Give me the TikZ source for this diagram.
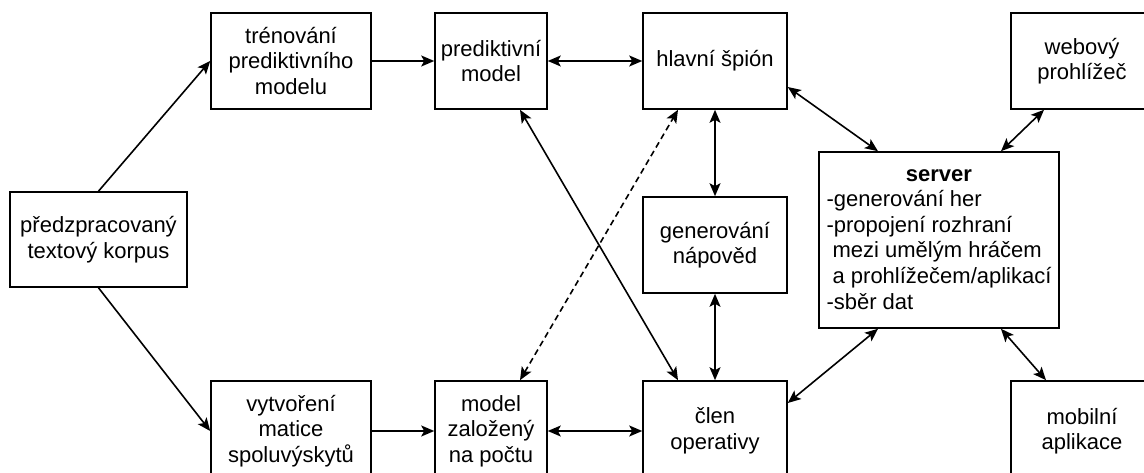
\documentclass[tikz,border=0pt]{standalone}
\usepackage{fontspec}
\setmainfont{Liberation Sans}
\usetikzlibrary{arrows.meta}

\begin{document}
\begin{tikzpicture}[x=1pt,y=-1pt]
    % Setup the styles for the boxes and the arrows
        \tikzset{box style/.style={draw, rectangle,
                                   line width=1.6pt,
                                   align=center,
                                   inner sep=2pt,
                                   font=\fontsize{22}{25.6}\selectfont},
                 arrow style/.style={line width=1.6pt,
                                     >={Stealth[length=13pt, width=11pt, inset=3pt]}}}
        \useasboundingbox (0,0) rectangle (1144,473);
        % Draw the boxes
        \node[box style, minimum width=177pt, minimum height=95pt] at (98.5, 239.5) (korpus) {předzpracovaný\\textový korpus};
        \node[box style, minimum width=160pt, minimum height=96pt] at (291, 61) (trenovani) {trénování\\prediktivního\\modelu};
        \node[box style, minimum width=112pt, minimum height=96pt] at (491, 61) (prediktivni) {prediktivní\\model};
        \node[box style, minimum width=144pt, minimum height=96pt] at (715, 61) (hlavni) {hlavní špión};
        \node[box style, minimum width=142pt, minimum height=96pt] at (1082, 61) (webovy) {webový\\prohlížeč};
        \node[box style, minimum width=144pt, minimum height=96pt] at (715, 245) (napovedy) {generování\\nápověd};
        \node[box style, minimum width=240pt, minimum height=176pt] at (939, 240) (server) {\begin{tabular}{@{}l@{}}
            \multicolumn{1}{@{}c@{}}{\textbf{server}}\\
            -generování her\\
            -propojení rozhraní\\
            \ mezi umělým hráčem\\
            \ a prohlížečem/aplikací\\
            -sběr dat
        \end{tabular}};
        \node[box style, minimum width=160pt, minimum height=100pt] at (291, 431) (matice) {vytvoření\\matice\\spoluvýskytů};
        \node[box style, minimum width=112pt, minimum height=100pt] at (491, 431) (pocty) {model\\založený\\na počtu};
        \node[box style, minimum width=144pt, minimum height=100pt] at (715, 431) (clen) {člen\\operativy};
        \node[box style, minimum width=142pt, minimum height=100pt] at (1082, 431) (mobilni) {mobilní\\aplikace};
        % Connect the boxes with arrows
        \draw[arrow style]
        (korpus.north) edge[->] (trenovani.west)
        (korpus.south) edge[->] (matice.west)
        (trenovani) edge[->] (prediktivni)
        (matice) edge[->] (pocty)
        (prediktivni) edge[<->] (hlavni)
        (pocty) edge[<->] (clen)
        ([xshift=29pt]prediktivni.south) edge[<->] ([xshift=-37pt]clen.north)
        ([xshift=29pt]pocty.north) edge[<->, dash pattern=on 6pt off 4pt] ([xshift=-37pt]hlavni.south)
        (hlavni) edge[<->] (napovedy)
        (napovedy) edge[<->] (clen)
        ([yshift=-26pt]hlavni.east) edge[<->] ([xshift=-61pt]server.north)
        ([yshift=28pt]clen.east) edge[<->] ([xshift=-61pt]server.south)
        ([xshift=-38pt]webovy.south) edge[<->] ([xshift=62pt]server.north)
        ([xshift=-36pt]mobilni.north) edge[<->] ([xshift=62pt]server.south);
\end{tikzpicture}
\end{document}
